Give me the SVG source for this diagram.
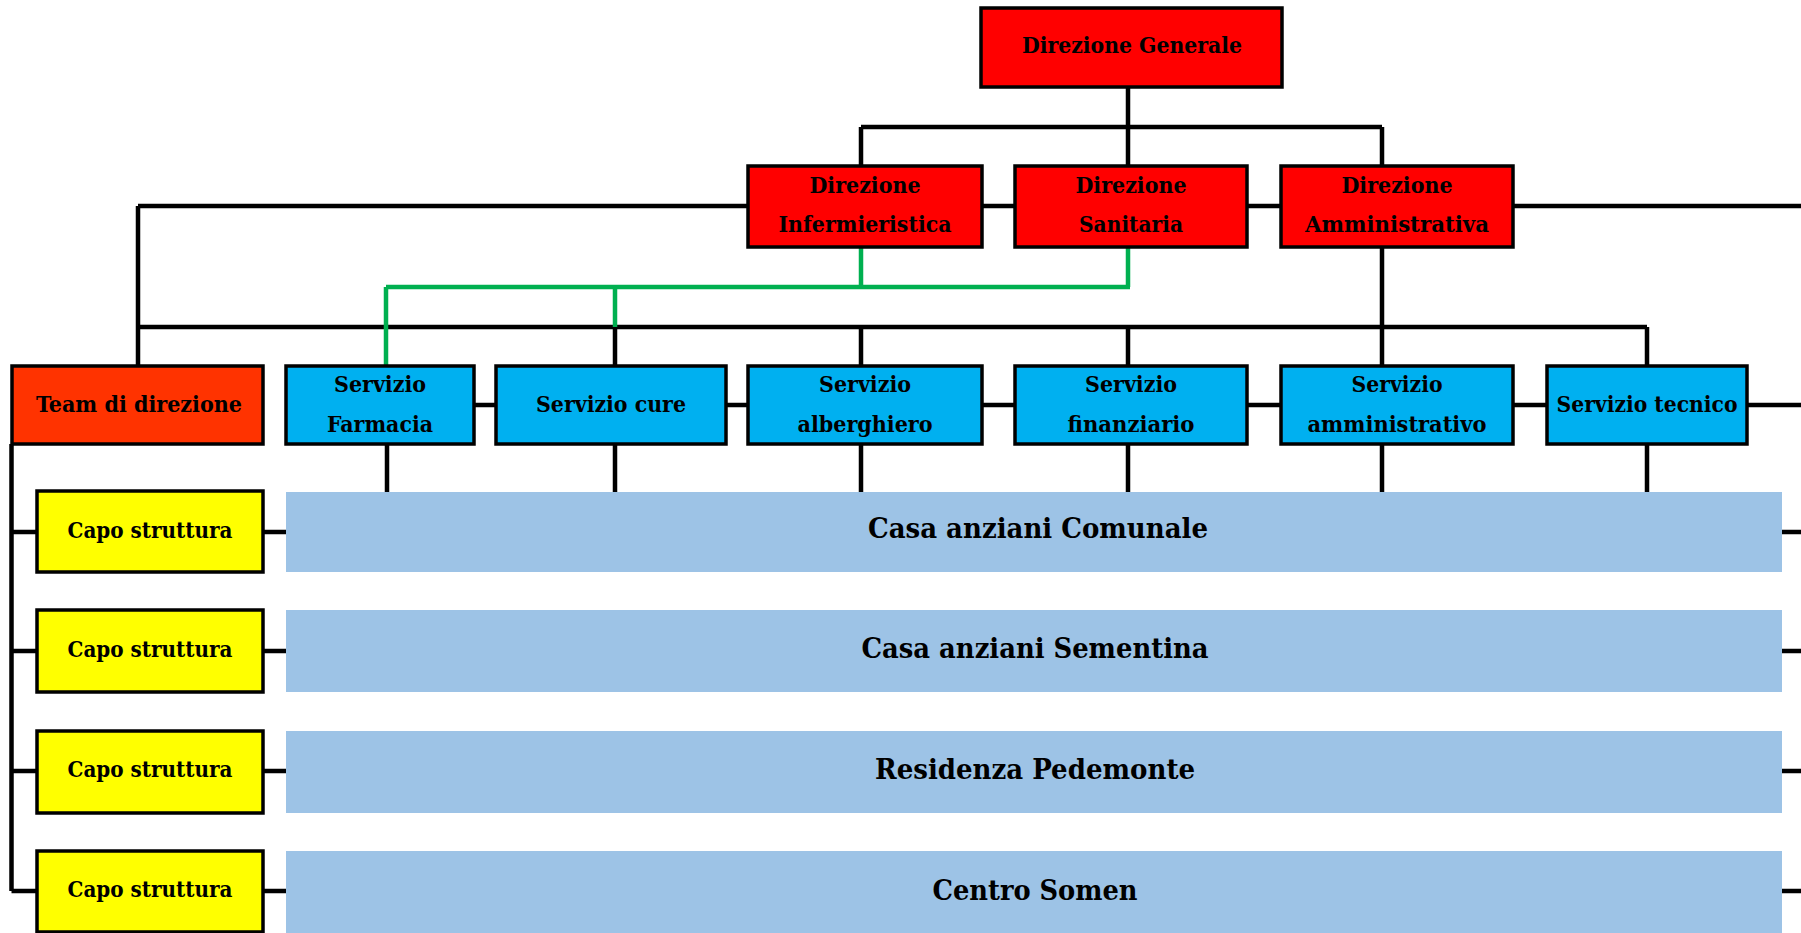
<svg xmlns="http://www.w3.org/2000/svg" width="1801" height="933" viewBox="0 0 1801 933">
<style>
.box{stroke:#000;stroke-width:3.5}
.red{fill:#FF0000}
.team{fill:#FF3300}
.blue{fill:#00B0F0}
.yel{fill:#FFFF00}
.band{fill:#9DC3E6}
.t{font-family:"DejaVu Serif Condensed","DejaVu Serif","Liberation Serif",serif;font-weight:bold;font-size:23px;fill:#000;text-anchor:middle}
.tb{font-size:28px}
.k{stroke:#000;stroke-width:4.5;fill:none}
.g{stroke:#00B050;stroke-width:4.5;fill:none}
</style>
<rect width="1801" height="933" fill="#fff"/>
<g id="connectors">
<path class="k" d="M1128 87V166M861 127H1382M861 127V166M1382 127V166"/>
<path class="k" d="M138 206H748M982 206H1015M1247 206H1281M1513 206H1801M138 206V366"/>
<path class="k" d="M138 327H1647M1382 247V366M615 327V366M861 327V366M1128 327V366M1647 327V366"/>
<path class="k" d="M474 405H496M726 405H748M982 405H1015M1247 405H1281M1513 405H1547M1747 405H1801"/>
<path class="k" d="M387 444V492M615 444V492M861 444V492M1128 444V492M1382 444V492M1647 444V492"/>
<path class="k" d="M11.5 444V891M11.5 532H37M11.5 651H37M11.5 771H37M11.5 891H37"/>
<path class="k" d="M263 532H286M263 651H286M263 771H286M263 891H286"/>
<path class="k" d="M1782 532H1801M1782 651H1801M1782 771H1801M1782 891H1801"/>
<path class="g" d="M861 247V287M1128 247V287M386 287H1130M386 287V366M615 287V327"/>
</g>
<g id="n-dg"><rect class="box red" x="981" y="8" width="301" height="79"/><text class="t" x="1132" y="53" textLength="220" lengthAdjust="spacingAndGlyphs">Direzione Generale</text></g>
<g id="n-dinf"><rect class="box red" x="748" y="166" width="234" height="81"/><text class="t" x="865" y="193" textLength="111" lengthAdjust="spacingAndGlyphs">Direzione</text><text class="t" x="865" y="232" textLength="173" lengthAdjust="spacingAndGlyphs">Infermieristica</text></g>
<g id="n-dsan"><rect class="box red" x="1015" y="166" width="232" height="81"/><text class="t" x="1131" y="193" textLength="111" lengthAdjust="spacingAndGlyphs">Direzione</text><text class="t" x="1131" y="232" textLength="104" lengthAdjust="spacingAndGlyphs">Sanitaria</text></g>
<g id="n-damm"><rect class="box red" x="1281" y="166" width="232" height="81"/><text class="t" x="1397" y="193" textLength="111" lengthAdjust="spacingAndGlyphs">Direzione</text><text class="t" x="1397" y="232" textLength="184" lengthAdjust="spacingAndGlyphs">Amministrativa</text></g>
<g id="n-team"><rect class="box team" x="12" y="366" width="251" height="78"/><text class="t" x="139" y="412" textLength="206" lengthAdjust="spacingAndGlyphs">Team di direzione</text></g>
<g id="n-farm"><rect class="box blue" x="286" y="366" width="188" height="78"/><text class="t" x="380" y="392" textLength="92" lengthAdjust="spacingAndGlyphs">Servizio</text><text class="t" x="380" y="432" textLength="106" lengthAdjust="spacingAndGlyphs">Farmacia</text></g>
<g id="n-cure"><rect class="box blue" x="496" y="366" width="230" height="78"/><text class="t" x="611" y="412" textLength="150" lengthAdjust="spacingAndGlyphs">Servizio cure</text></g>
<g id="n-alb"><rect class="box blue" x="748" y="366" width="234" height="78"/><text class="t" x="865" y="392" textLength="92" lengthAdjust="spacingAndGlyphs">Servizio</text><text class="t" x="865" y="432" textLength="135" lengthAdjust="spacingAndGlyphs">alberghiero</text></g>
<g id="n-fin"><rect class="box blue" x="1015" y="366" width="232" height="78"/><text class="t" x="1131" y="392" textLength="92" lengthAdjust="spacingAndGlyphs">Servizio</text><text class="t" x="1131" y="432" textLength="127" lengthAdjust="spacingAndGlyphs">finanziario</text></g>
<g id="n-amm"><rect class="box blue" x="1281" y="366" width="232" height="78"/><text class="t" x="1397" y="392" textLength="91" lengthAdjust="spacingAndGlyphs">Servizio</text><text class="t" x="1397" y="432" textLength="179" lengthAdjust="spacingAndGlyphs">amministrativo</text></g>
<g id="n-tec"><rect class="box blue" x="1547" y="366" width="200" height="78"/><text class="t" x="1647" y="412" textLength="181" lengthAdjust="spacingAndGlyphs">Servizio tecnico</text></g>
<g id="n-capo1"><rect class="box yel" x="37" y="491" width="226" height="81"/><text class="t" x="150" y="538" textLength="165" lengthAdjust="spacingAndGlyphs">Capo struttura</text></g>
<g id="n-capo2"><rect class="box yel" x="37" y="610" width="226" height="82"/><text class="t" x="150" y="657" textLength="165" lengthAdjust="spacingAndGlyphs">Capo struttura</text></g>
<g id="n-capo3"><rect class="box yel" x="37" y="731" width="226" height="82"/><text class="t" x="150" y="777" textLength="165" lengthAdjust="spacingAndGlyphs">Capo struttura</text></g>
<g id="n-capo4"><rect class="box yel" x="37" y="851" width="226" height="81"/><text class="t" x="150" y="897" textLength="165" lengthAdjust="spacingAndGlyphs">Capo struttura</text></g>
<g id="n-band1"><rect class="band" x="286" y="492" width="1496" height="80"/><text class="t tb" x="1038" y="538" textLength="340" lengthAdjust="spacingAndGlyphs">Casa anziani Comunale</text></g>
<g id="n-band2"><rect class="band" x="286" y="610" width="1496" height="82"/><text class="t tb" x="1035" y="658" textLength="347" lengthAdjust="spacingAndGlyphs">Casa anziani Sementina</text></g>
<g id="n-band3"><rect class="band" x="286" y="731" width="1496" height="82"/><text class="t tb" x="1035" y="779" textLength="320" lengthAdjust="spacingAndGlyphs">Residenza Pedemonte</text></g>
<g id="n-band4"><rect class="band" x="286" y="851" width="1496" height="82"/><text class="t tb" x="1035" y="900" textLength="205" lengthAdjust="spacingAndGlyphs">Centro Somen</text></g>
</svg>
